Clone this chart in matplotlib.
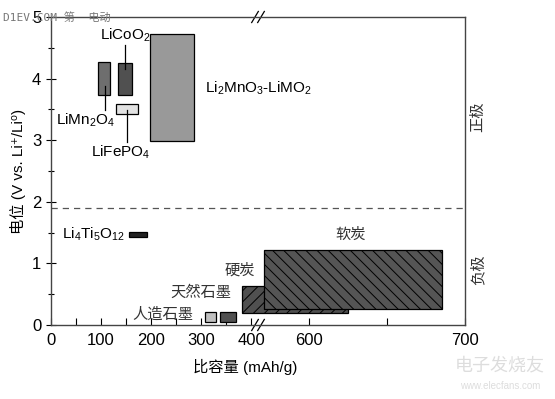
import numpy as np
import matplotlib
matplotlib.use("Agg")
import matplotlib.pyplot as plt

plt.rcParams['font.family'] = ['Liberation Sans', 'Noto Sans CJK SC', 'DejaVu Sans']
plt.rcParams['mathtext.fontset'] = 'custom'
plt.rcParams['mathtext.rm'] = 'Liberation Sans'
plt.rcParams['mathtext.it'] = 'Liberation Sans:italic'
plt.rcParams['mathtext.bf'] = 'Liberation Sans:bold'
plt.rcParams['hatch.linewidth'] = 0.7

# broken x axis: 412..567 mAh/g squeezed out, right part stretched
A, B, K = 412.0, 567.0, 3.12

def fwd(x):
    x = np.asarray(x, dtype=float)
    return np.where(x <= A, x, np.where(x >= B, A + (x - B) * K, A))

def inv(y):
    y = np.asarray(y, dtype=float)
    return np.where(y <= A, y, B + (y - A) / K)

# cathodes
cat_names = ['LiMn$_2$O$_4$', 'LiCoO$_2$', 'LiFePO$_4$', 'Li$_2$MnO$_3$-LiMO$_2$']
cat_x0 = [94, 134, 130, 198]
cat_x1 = [118, 162, 174, 286]
cat_v0 = [3.73, 3.73, 3.43, 2.99]
cat_v1 = [4.27, 4.25, 3.59, 4.72]
cat_col = ['#6e6e6e', '#505050', '#e2e2e2', '#999999']

# anodes
ano_names = ['Li$_4$Ti$_5$O$_{12}$', '人造石墨', '天然石墨', '硬炭', '软炭']
ano_x0 = [156, 308, 338, 382, 571]
ano_x1 = [192, 330, 370, 625, 685]
ano_v0 = [1.43, 0.05, 0.05, 0.20, 0.26]
ano_v1 = [1.51, 0.21, 0.21, 0.63, 1.22]
ano_col = ['#222222', '#c0c0c0', '#505050', '#505050', '#555555']
ano_hatch = [None, None, None, '///', '\\\\\\']

xticks = [0, 100, 200, 300, 400, 600, 650, 700]
xticklabels = ['0', '100', '200', '300', '400', '600', '', '700']
sep_v = 1.9

fig = plt.figure(figsize=(5.55, 3.99), dpi=100)
ax = fig.add_axes([51/555, 74/399, 414/555, 308/399])
ax.set_xscale('function', functions=(fwd, inv))
ax.set_xlim(0, 700)
ax.set_ylim(0, 5)

for x0, x1, v0, v1, c in zip(cat_x0, cat_x1, cat_v0, cat_v1, cat_col):
    ax.bar(x0, v1 - v0, width=x1 - x0, bottom=v0, align='edge',
           color=c, edgecolor='black', linewidth=0.9, zorder=3)

for x0, x1, v0, v1, c, h in zip(ano_x0, ano_x1, ano_v0, ano_v1, ano_col, ano_hatch):
    ax.bar(x0, v1 - v0, width=x1 - x0, bottom=v0, align='edge',
           color=c, edgecolor='black', linewidth=0.9, hatch=h, zorder=3)

# leader lines
ax.plot([148, 148], [4.54, 4.15], color='black', lw=0.9, zorder=4)
ax.plot([108, 108], [3.88, 3.49], color='black', lw=0.9, zorder=4)
ax.plot([152, 152], [3.49, 2.97], color='black', lw=0.9, zorder=4)

fs = 11
ax.text(148, 4.56, cat_names[1], ha='center', va='bottom', fontsize=fs)
ax.text(68, 3.47, cat_names[0], ha='center', va='top', fontsize=fs)
ax.text(140, 2.95, cat_names[2], ha='center', va='top', fontsize=fs)
ax.text(308, 3.85, cat_names[3], ha='left', va='center', fontsize=fs)
ax.text(148, 1.47, ano_names[0], ha='right', va='center', fontsize=fs)
ax.text(284, 0.17, ano_names[1], ha='right', va='center', fontsize=fs, color='#333333')
ax.text(360, 0.52, ano_names[2], ha='right', va='center', fontsize=fs, color='#333333')
ax.text(408, 0.89, ano_names[3], ha='right', va='center', fontsize=fs, color='#333333')
ax.text(627, 1.46, ano_names[4], ha='center', va='center', fontsize=fs, color='#333333')

ax.axhline(sep_v, color='#555555', lw=0.9, ls=(0, (5, 4)), zorder=2)

ax.set_xticks(xticks)
ax.set_xticklabels(xticklabels)
ax.set_xticks([50, 150, 250, 350], minor=True)
ax.set_yticks([0, 1, 2, 3, 4, 5])
ax.set_yticks(np.arange(0.5, 5, 1.0), minor=True)
ax.tick_params(axis='x', which='both', direction='in', length=5, width=0.8, labelsize=12, pad=6)
ax.tick_params(axis='y', which='both', direction='inout', length=7, width=0.8, labelsize=12)
ax.tick_params(axis='y', which='minor', length=5)
for s in ax.spines.values():
    s.set_color('#444444')
    s.set_linewidth(1.0)

ax.set_xlabel('比容量 (mAh/g)', fontsize=11)
ax.xaxis.set_label_coords(0.47, -0.11)
ax.set_ylabel('电位 (V vs. Li⁺/Li⁰)', fontsize=11, labelpad=4)

# side labels
ax.text(1.031, 0.675, '正极', transform=ax.transAxes, rotation=90,
        ha='center', va='center', fontsize=11, color='#333333')
ax.text(1.031, 0.18, '负极', transform=ax.transAxes, rotation=90,
        ha='center', va='center', fontsize=11, color='#333333')

# break marks
for xb in (255, 261):
    fx = (xb - 51) / 414
    ax.plot([fx - 0.008, fx + 0.008], [-0.018, 0.018], transform=ax.transAxes,
            color='black', lw=0.9, clip_on=False)
    ax.plot([fx - 0.008, fx + 0.008], [1 - 0.018, 1 + 0.018], transform=ax.transAxes,
            color='black', lw=0.9, clip_on=False)

# watermarks
fig.text(3/555, 1 - 17/399, 'D1EV.COM 第  电动', fontsize=8, color='#777777',
         family=['DejaVu Sans Mono', 'Noto Sans CJK SC'], va='center')
fig.text(500/555, 1 - 366/399, '电子发烧友', fontsize=13, color='#dddddd',
         ha='center', va='center', style='italic')
fig.text(500/555, 1 - 386/399, 'www.elecfans.com', fontsize=7, color='#dddddd',
         ha='center', va='center')

fig.savefig('out.png', dpi=100)
